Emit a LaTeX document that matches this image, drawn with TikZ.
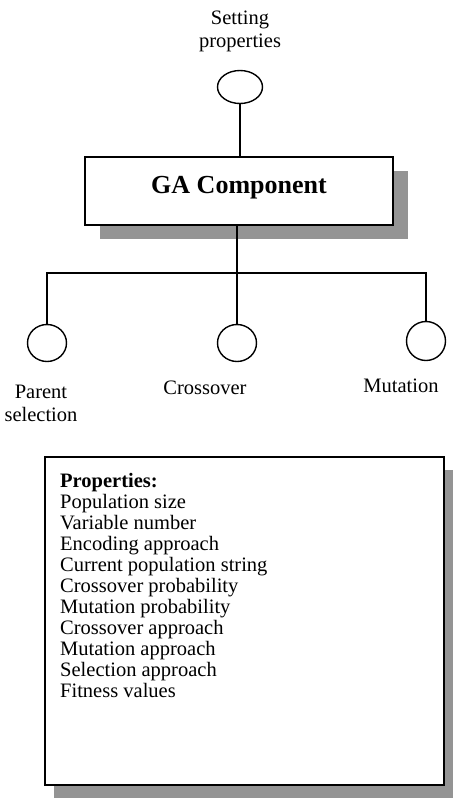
\documentclass[tikz,border=0pt]{standalone}
\usepackage{fontspec}
\setmainfont{Liberation Serif}
\usetikzlibrary{shapes.geometric,shadows}
\begin{document}
\begin{tikzpicture}[x=1pt,y=-1pt,
  conn/.style={line width=1.4pt},
  circ/.style={ellipse,draw,line width=1.4pt,inner sep=0pt,fill=white},
  lbl/.style={font=\fontsize{20.5}{23}\selectfont,inner sep=0pt,align=center},
  framebox/.style={draw,line width=1.8pt,fill=white,inner sep=0pt},
]
\useasboundingbox (0,0) rectangle (453,798);

% top label and circle
\node[lbl,anchor=north] (setlbl) at (240,7.9) {\strut Setting\\properties};
\node[circ,minimum width=45pt,minimum height=33pt] (top) at (240,87) {};

% GA component box
\node[framebox,minimum width=308pt,minimum height=68pt,
      text height=17pt,text depth=13pt,
      font=\bfseries\fontsize{26}{30}\selectfont,
      drop shadow={shadow xshift=15pt,shadow yshift=-14pt,fill=black!42,opacity=1}]
      (ga) at (239,191) {GA Component};

% bottom circles
\node[circ,minimum width=39pt,minimum height=37pt] (c1) at (47,343) {};
\node[circ,minimum width=39pt,minimum height=37pt] (c2) at (237,343) {};
\node[circ,minimum width=39pt,minimum height=39pt] (c3) at (426,341) {};
\coordinate (j) at (237,273);

% connectors
\draw[conn] (top.south) -- (top.south |- ga.north);
\draw[conn] (c2.north) -- (c2.north |- ga.south);
\draw[conn] (c1.north) -- (c1.north |- j) -- (c3.north |- j) -- (c3.north);

% labels
\node[lbl,anchor=north] (plbl) at (41,381.9) {\strut Parent\\selection};
\node[lbl,anchor=base] (xlbl) at (205,394) {Crossover};
\node[lbl,anchor=base] (mlbl) at (401,392) {Mutation};

% properties box
\node[framebox,minimum width=399pt,minimum height=328pt,
      drop shadow={shadow xshift=9pt,shadow yshift=-13pt,fill=black!42,opacity=1}]
      (props) at (244.5,621) {};
\node[anchor=north west,inner sep=0pt,align=left,
      font=\fontsize{20.5}{21}\selectfont] (ptext) at (60,472.3)
  {\strut\textbf{Properties:}\\
   Population size\\
   Variable number\\
   Encoding approach\\
   Current population string\\
   Crossover probability\\
   Mutation probability\\
   Crossover approach\\
   Mutation approach\\
   Selection approach\\
   Fitness values};
\end{tikzpicture}
\end{document}
